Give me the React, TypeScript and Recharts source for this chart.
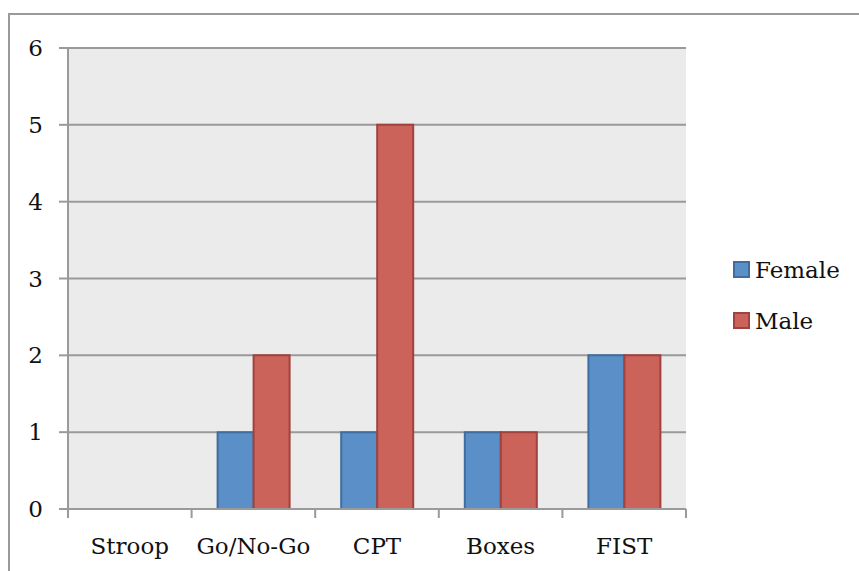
import { BarChart, Bar, XAxis, YAxis, CartesianGrid } from 'recharts';

const categories = ['Stroop', 'Go/No-Go', 'CPT', 'Boxes', 'FIST'];
const female = [0, 1, 1, 1, 2];
const male = [0, 2, 5, 1, 2];
const yTicks = [0, 1, 2, 3, 4, 5, 6];

const series = [
  { key: 'Female', fill: '#5b8fc7', stroke: '#3f6d9f' },
  { key: 'Male', fill: '#cc635b', stroke: '#a0423d' },
];

const data = categories.map((name, i) => ({ name, Female: female[i], Male: male[i] }));

const FONT = '"DejaVu Serif", serif';
const GRAY = '#9a9a9a';
const TEXT = '#111';

const CategoryTick = (props: any) => {
  const { x, y, payload, index } = props;
  const half = payload.offset ?? 0;
  const last = index === categories.length - 1;
  return (
    <g>
      <line x1={x - half} x2={x - half} y1={y} y2={y + 9} stroke={GRAY} strokeWidth={2} />
      {last && <line x1={x + half} x2={x + half} y1={y} y2={y + 9} stroke={GRAY} strokeWidth={2} />}
      <text x={x} y={y + 45} textAnchor="middle" fontFamily={FONT} fontSize={23} fill={TEXT}>
        {payload.value}
      </text>
    </g>
  );
};

const App = () => {
  return (
    <div style={{ position: 'absolute', left: 0, top: 0, width: 859, height: 571, background: '#fff' }}>
      <div
        style={{
          position: 'absolute',
          left: 8,
          top: 13,
          width: 859,
          height: 571,
          borderLeft: `2px solid ${GRAY}`,
          borderTop: `2px solid ${GRAY}`,
        }}
      />
      <BarChart
        width={859}
        height={571}
        data={data}
        margin={{ top: 48, right: 173, bottom: 0, left: 0 }}
        barGap={0}
        barSize={36}
        style={{ position: 'absolute', left: 0, top: 0 }}
      >
        <CartesianGrid vertical={false} fill="#ebebeb" stroke={GRAY} strokeWidth={2} />
        <XAxis
          dataKey="name"
          axisLine={{ stroke: GRAY, strokeWidth: 2 }}
          tickLine={false}
          tickSize={0}
          tickMargin={0}
          tick={<CategoryTick />}
          interval={0}
          height={62}
        />
        <YAxis
          width={68}
          domain={[0, 6]}
          ticks={yTicks}
          axisLine={{ stroke: GRAY, strokeWidth: 2 }}
          tickLine={{ stroke: GRAY, strokeWidth: 2 }}
          tickSize={9}
          tickMargin={16}
          tick={{ fontFamily: FONT, fontSize: 23, fill: TEXT }}
        />
        {series.map((s) => (
          <Bar key={s.key} dataKey={s.key} fill={s.fill} stroke={s.stroke} strokeWidth={2} isAnimationActive={false} />
        ))}
      </BarChart>
      <div style={{ position: 'absolute', left: 733, top: 244, fontFamily: FONT, fontSize: 23, color: TEXT }}>
        {series.map((s) => (
          <div key={s.key} style={{ display: 'flex', alignItems: 'center', height: 51 }}>
            <span
              style={{
                display: 'inline-block',
                width: 13,
                height: 13,
                background: s.fill,
                border: `2px solid ${s.stroke}`,
              }}
            />
            <span style={{ marginLeft: 5 }}>{s.key}</span>
          </div>
        ))}
      </div>
    </div>
  );
};

export default App;
